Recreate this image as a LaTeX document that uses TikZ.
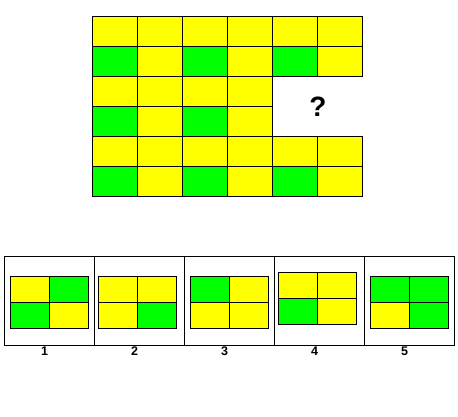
\documentclass[tikz,border=0pt]{standalone}
\usepackage{fontspec}
\setmainfont{Liberation Sans}
\usepackage{xcolor}

\begin{document}
\begin{tikzpicture}[x=1pt,y=-1pt,
  cell/.style={draw,line width=1pt,minimum width=45pt,minimum height=30pt,inner sep=0pt},
  piece/.style={draw,line width=1pt,minimum width=39pt,minimum height=26pt,inner sep=0pt},
  panel/.style={draw,line width=0.8pt,minimum width=90pt,minimum height=89pt,inner sep=0pt},
  num/.style={anchor=base,inner sep=0pt,font=\bfseries\fontsize{12.5}{14}\selectfont}]
\definecolor{yel}{HTML}{FFFF00}
\definecolor{grn}{HTML}{00FF00}
\useasboundingbox (0,0) rectangle (458,416);
% the big grid with its gap
  \foreach \r/\list in {0/{yel,yel,yel,yel,yel,yel},1/{grn,yel,grn,yel,grn,yel},2/{yel,yel,yel,yel},3/{grn,yel,grn,yel},4/{yel,yel,yel,yel,yel,yel},5/{grn,yel,grn,yel,grn,yel}}
  {  \foreach \clr [count=\col from 0] in \list
     {  \node [cell,fill=\clr] (c\r\col) at (114.8+45*\col, 31.7+30*\r) {};}}
\node [font=\bfseries\fontsize{28}{30}\selectfont] (q) at (318,107) {?};
% answer panels
  \foreach \k/\dx/\dy/\ca/\cb/\cc/\cd in {1/0/1.5/yel/grn/grn/yel,2/-1.5/1.5/yel/yel/yel/grn,3/0.5/1.5/grn/yel/yel/yel,4/-1.5/-2.5/yel/yel/grn/yel,5/0.5/1.5/grn/grn/yel/grn}
  {  \node [panel] (p\k) at (49+90*\k-90, 300.5) {};
     \coordinate (m\k) at ([xshift=\dx pt,yshift=-\dy pt]p\k.center);
     \node [piece,fill=\ca] (o\k a) at ([xshift=-19.5pt,yshift=13pt]m\k) {};
     \node [piece,fill=\cb] (o\k b) at ([xshift=19.5pt,yshift=13pt]m\k) {};
     \node [piece,fill=\cc] (o\k c) at ([xshift=-19.5pt,yshift=-13pt]m\k) {};
     \node [piece,fill=\cd] (o\k d) at ([xshift=19.5pt,yshift=-13pt]m\k) {};
     \node [num] (n\k) at ([xshift=-4.5pt,yshift=-54.5pt]p\k.center) {\k};}
\end{tikzpicture}
\end{document}
